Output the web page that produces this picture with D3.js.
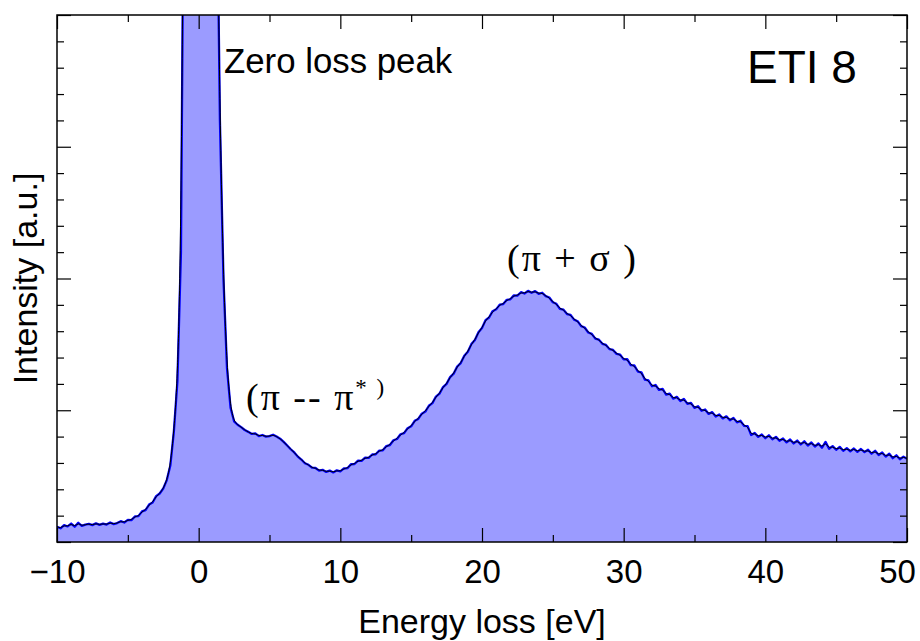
<!DOCTYPE html>
<html>
<head>
<meta charset="utf-8">
<script src="https://cdn.jsdelivr.net/npm/d3@7/dist/d3.min.js"></script>
<style>
  body { margin: 0; background: #fff; }
  svg { display: block; font-family: "Liberation Sans", Arial, sans-serif; }
</style>
</head>
<body>
<script>
// spectrum, one value every 0.25 eV from -10 eV
const eStart = -10;
const eStep = 0.25;
const intensity = [
  0.58,0.52,0.64,0.59,0.70,0.58,0.73,0.61,0.66,0.69,0.64,0.71,0.65,0.70,0.66,0.74,0.68,0.72,0.79,0.74,
  0.84,0.83,0.97,0.98,1.16,1.21,1.42,1.50,1.74,1.84,2.03,2.35,2.90,4.20,6.10,11,30,70,140,210,
  240,220,160,100,50,27,16,10,6.6,5.1,4.58,4.45,4.36,4.25,4.18,4.10,4.12,4.02,4.06,4.00,
  4.02,4.07,4.00,3.92,3.80,3.66,3.52,3.40,3.24,3.13,2.99,2.93,2.82,2.81,2.71,2.74,2.66,2.71,2.64,2.72,
  2.68,2.79,2.80,2.95,2.96,3.09,3.08,3.20,3.19,3.32,3.33,3.47,3.48,3.64,3.68,3.86,3.91,4.09,4.13,4.32,
  4.39,4.60,4.67,4.87,4.95,5.17,5.27,5.52,5.63,5.88,6.00,6.26,6.39,6.66,6.79,7.07,7.22,7.51,7.67,7.96,
  8.12,8.42,8.52,8.76,8.83,9.01,9.03,9.19,9.21,9.36,9.35,9.48,9.43,9.53,9.46,9.52,9.42,9.46,9.33,9.28,
  9.10,9.04,8.85,8.82,8.65,8.62,8.44,8.38,8.19,8.14,7.95,7.90,7.72,7.68,7.52,7.48,7.32,7.29,7.14,7.11,
  6.93,6.94,6.71,6.70,6.47,6.44,6.16,6.13,5.91,5.96,5.77,5.81,5.59,5.63,5.44,5.51,5.35,5.43,5.24,5.28,
  5.09,5.15,4.98,5.03,4.86,4.93,4.76,4.84,4.69,4.77,4.62,4.71,4.54,4.60,4.41,4.40,4.06,4.14,3.99,4.08,
  3.94,4.05,3.90,3.99,3.84,3.93,3.78,3.89,3.74,3.85,3.70,3.82,3.66,3.78,3.62,3.74,3.58,3.80,3.54,3.64,
  3.50,3.61,3.46,3.56,3.44,3.55,3.42,3.53,3.41,3.50,3.35,3.46,3.30,3.40,3.24,3.35,3.18,3.29,3.14,3.24,
  3.16
];

const xMajor = [-10, 0, 10, 20, 30, 40, 50];
const xLabels = ["\u221210", "0", "10", "20", "30", "40", "50"];
const xMinor = [-5, 5, 15, 25, 35, 45];
const yMajor = [0, 5, 10, 15, 20];
const yMinor = [1,2,3,4,6,7,8,9,11,12,13,14,16,17,18,19];

const margin = {top: 15, right: 13, bottom: 99, left: 57},
  width = 920 - margin.left - margin.right,
  height = 641 - margin.top - margin.bottom;

const data = intensity.map((v, i) => [eStart + i * eStep, v]);

const x = d3.scaleLinear().domain([-10, 50]).range([0, width]);
const y = d3.scaleLinear().domain([0, 20]).range([height, 0]);

const svg = d3.select("body")
  .append("svg")
  .attr("width", 920)
  .attr("height", 641)
  .append("g")
  .attr("transform", "translate(" + margin.left + "," + margin.top + ")");

svg.append("clipPath").attr("id", "plot-clip")
  .append("rect").attr("width", width).attr("height", height);

const plot = svg.append("g").attr("clip-path", "url(#plot-clip)");

let area = d3.area()
  .x(d => x(d[0]))
  .y0(y(0))
  .y1(d => y(d[1]));

plot.append("path")
  .datum(data)
  .attr("fill", "#9b9bff")
  .attr("d", area);

// noisy measured trace
plot.append("path")
  .datum(data)
  .attr("fill", "none")
  .attr("stroke", "#0000ff")
  .attr("stroke-width", 2.3)
  .attr("stroke-linejoin", "round")
  .attr("d", d3.line().x(d => x(d[0])).y(d => y(d[1])));

// smoothed trace on top
plot.append("path")
  .datum(data)
  .attr("fill", "none")
  .attr("stroke", "#000")
  .attr("stroke-width", 1)
  .attr("d", d3.line().curve(d3.curveBasis).x(d => x(d[0])).y(d => y(d[1])));

function styleAxis(g) {
  g.select(".domain").remove();
  g.selectAll(".tick line").attr("stroke", "#000").attr("stroke-width", 1.2);
}

// bottom axis with labels
svg.append("g")
  .attr("transform", "translate(0," + height + ")")
  .call(d3.axisBottom(x).tickValues(xMajor).tickSize(-14).tickPadding(18)
    .tickFormat((d, i) => xLabels[i]))
  .call(styleAxis)
  .selectAll("text")
  .attr("fill", "#000")
  .attr("dx", d => d === 50 ? -10 : 0)
  .style("font-size", "33px")
  .style("font-family", "'Liberation Sans', Arial, sans-serif");

svg.append("g")
  .attr("transform", "translate(0," + height + ")")
  .call(d3.axisBottom(x).tickValues(xMinor).tickSize(-7).tickFormat(""))
  .call(styleAxis);

// top axis, ticks only
svg.append("g")
  .call(d3.axisTop(x).tickValues(xMajor).tickSize(-14).tickFormat(""))
  .call(styleAxis);
svg.append("g")
  .call(d3.axisTop(x).tickValues(xMinor).tickSize(-7).tickFormat(""))
  .call(styleAxis);

// left / right axes, ticks only
svg.append("g")
  .call(d3.axisLeft(y).tickValues(yMajor).tickSize(-14).tickFormat(""))
  .call(styleAxis);
svg.append("g")
  .call(d3.axisLeft(y).tickValues(yMinor).tickSize(-7).tickFormat(""))
  .call(styleAxis);
svg.append("g")
  .attr("transform", "translate(" + width + ",0)")
  .call(d3.axisRight(y).tickValues(yMajor).tickSize(-14).tickFormat(""))
  .call(styleAxis);
svg.append("g")
  .attr("transform", "translate(" + width + ",0)")
  .call(d3.axisRight(y).tickValues(yMinor).tickSize(-7).tickFormat(""))
  .call(styleAxis);

// frame
svg.append("rect")
  .attr("width", width)
  .attr("height", height)
  .attr("fill", "none")
  .attr("stroke", "#000")
  .attr("stroke-width", 1.5);

// axis titles
svg.append("text")
  .attr("x", width / 2)
  .attr("y", height + 91)
  .attr("text-anchor", "middle")
  .style("font-size", "34px")
  .text("Energy loss [eV]");

svg.append("text")
  .attr("transform", "translate(" + (37 - margin.left) + "," + (height / 2) + ") rotate(-90)")
  .attr("text-anchor", "middle")
  .style("font-size", "34px")
  .text("Intensity [a.u.]");

// labels inside the plot
svg.append("text")
  .attr("x", 224 - margin.left)
  .attr("y", 73 - margin.top)
  .style("font-size", "34.8px")
  .text("Zero loss peak");

svg.append("text")
  .attr("x", 747 - margin.left)
  .attr("y", 83 - margin.top)
  .style("font-size", "46px")
  .text("ETI 8");

const pp = svg.append("text")
  .attr("x", 246 - margin.left)
  .attr("y", 410 - margin.top)
  .style("font-family", "'Liberation Serif', 'Times New Roman', serif")
  .style("font-size", "38px")
  .style("letter-spacing", "2px")
  .style("white-space", "pre");
pp.append("tspan").text("(\u03c0 -- \u03c0");
pp.append("tspan").attr("dy", -15).style("font-size", "23px").text("* )");

svg.append("text")
  .attr("x", 507 - margin.left)
  .attr("y", 271 - margin.top)
  .style("font-family", "'Liberation Serif', 'Times New Roman', serif")
  .style("font-size", "38px")
  .style("letter-spacing", "2px")
  .style("white-space", "pre")
  .text("(\u03c0 + \u03c3 )");
</script>
</body>
</html>
